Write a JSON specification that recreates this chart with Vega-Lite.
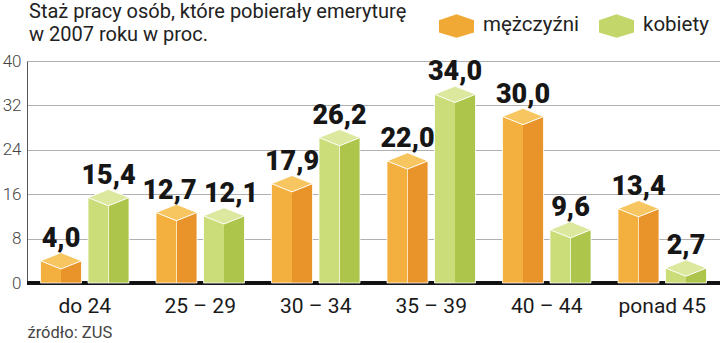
{
  "$schema": "https://vega.github.io/schema/vega-lite/v6.json",
  "autosize": {"type": "none"},
  "width": 693,
  "height": 222,
  "padding": {"left": 27, "top": 61, "right": 0, "bottom": 60},
  "background": "white",
  "config": {
    "font": "Roboto",
    "view": {"stroke": null},
    "locale": {"number": {"decimal": ",", "thousands": " ", "grouping": [3], "currency": ["", " zł"]}}
  },
  "title": {
    "text": ["Staż pracy osób, które pobierały emeryturę", "w 2007 roku w proc."],
    "anchor": "start",
    "frame": "group",
    "fontSize": 20,
    "fontWeight": "normal",
    "color": "#222222",
    "lineHeight": 23,
    "offset": 14,
    "dx": 2,
    "dy": 52
  },
  "data": {
    "values": [
      {"cat": "do 24", "sex": "mężczyźni", "value": 4.0},
      {"cat": "do 24", "sex": "kobiety", "value": 15.4},
      {"cat": "25 – 29", "sex": "mężczyźni", "value": 12.7},
      {"cat": "25 – 29", "sex": "kobiety", "value": 12.1},
      {"cat": "30 – 34", "sex": "mężczyźni", "value": 17.9},
      {"cat": "30 – 34", "sex": "kobiety", "value": 26.2},
      {"cat": "35 – 39", "sex": "mężczyźni", "value": 22.0},
      {"cat": "35 – 39", "sex": "kobiety", "value": 34.0},
      {"cat": "40 – 44", "sex": "mężczyźni", "value": 30.0},
      {"cat": "40 – 44", "sex": "kobiety", "value": 9.6},
      {"cat": "ponad 45", "sex": "mężczyźni", "value": 13.4},
      {"cat": "ponad 45", "sex": "kobiety", "value": 2.7}
    ]
  },
  "encoding": {
    "x": {
      "field": "cat",
      "type": "nominal",
      "sort": ["do 24", "25 – 29", "30 – 34", "35 – 39", "40 – 44", "ponad 45"],
      "scale": {"paddingInner": 0, "paddingOuter": 0},
      "axis": {
        "title": "źródło: ZUS",
        "titleAnchor": "start",
        "titleAlign": "left",
        "titleFontSize": 16.5,
        "titleFontWeight": "normal",
        "titleColor": "#444444",
        "titlePadding": 8,
        "labelAngle": 0,
        "labelFontSize": 21,
        "labelColor": "#1a1a1a",
        "labelPadding": 12,
        "ticks": false,
        "domain": false,
        "grid": false
      }
    },
    "xOffset": {
      "field": "sex",
      "type": "nominal",
      "sort": ["mężczyźni", "kobiety"],
      "scale": {"paddingInner": 0.137, "paddingOuter": 0.284}
    },
    "y": {
      "field": "value",
      "type": "quantitative",
      "scale": {"domain": [0, 40], "nice": false},
      "axis": {
        "title": null,
        "values": [0, 8, 16, 24, 32, 40],
        "labelFontSize": 17,
        "labelFontWeight": 300,
        "labelColor": "#444444",
        "labelPadding": 6,
        "ticks": false,
        "domainColor": "#555555",
        "domainWidth": 1,
        "gridColor": "#b0b0b0",
        "gridWidth": 1
      }
    }
  },
  "layer": [
    {
      "mark": {"type": "rule", "color": "#111111", "strokeWidth": 2.5},
      "encoding": {"y": {"datum": 0}, "x": null, "xOffset": null}
    },
    {
      "mark": {"type": "bar", "stroke": "white", "strokeWidth": 0.8},
      "encoding": {
        "fill": {
          "condition": {
            "test": "datum.sex === 'mężczyźni'",
            "value": {
              "gradient": "linear", "x1": 0, "x2": 1, "y1": 0, "y2": 0,
              "stops": [
                {"offset": 0, "color": "#f3b03e"},
                {"offset": 0.49, "color": "#f3b03e"},
                {"offset": 0.49, "color": "#fbe3b8"},
                {"offset": 0.51, "color": "#fbe3b8"},
                {"offset": 0.51, "color": "#e8942b"},
                {"offset": 1, "color": "#e8942b"}
              ]
            }
          },
          "value": {
            "gradient": "linear", "x1": 0, "x2": 1, "y1": 0, "y2": 0,
            "stops": [
              {"offset": 0, "color": "#cadd79"},
              {"offset": 0.49, "color": "#cadd79"},
              {"offset": 0.49, "color": "#eef4d2"},
              {"offset": 0.51, "color": "#eef4d2"},
              {"offset": 0.51, "color": "#adc54b"},
              {"offset": 1, "color": "#adc54b"}
            ]
          }
        }
      }
    },
    {
      "mark": {
        "type": "point",
        "shape": "M-1,0L0,0.4L1,0L0,-0.4Z",
        "size": 1681,
        "filled": true,
        "opacity": 1,
        "stroke": "white",
        "strokeWidth": 1
      },
      "encoding": {
        "fill": {
          "condition": {"test": "datum.sex === 'mężczyźni'", "value": "#f7c660"},
          "value": "#dbe89d"
        }
      }
    },
    {
      "mark": {"type": "point", "filled": true, "opacity": 0},
      "encoding": {
        "color": {
          "field": "sex",
          "type": "nominal",
          "sort": ["mężczyźni", "kobiety"],
          "scale": {"domain": ["mężczyźni", "kobiety"], "range": ["#f0a935", "#c2d66a"]},
          "legend": {
            "title": null,
            "orient": "none",
            "direction": "horizontal",
            "legendX": 412,
            "legendY": -54,
            "symbolType": "M-1,-0.25L0,-0.6L1,-0.25L1,0.45L0,0.75L-1,0.45Z",
            "symbolSize": 1225,
            "symbolOpacity": 1,
            "symbolStrokeWidth": 0,
            "labelFontSize": 20.5,
            "labelColor": "#222222",
            "labelOffset": 9,
            "columnPadding": 20
          }
        }
      }
    },
    {
      "transform": [{"filter": "datum.cat !== '25 – 29'"}],
      "mark": {"type": "text", "font": "Roboto", "fontSize": 27, "fontWeight": 900, "baseline": "alphabetic", "dy": -14, "color": "#161616"},
      "encoding": {
        "text": {"field": "value", "type": "quantitative", "format": ".1f"}
      }
    },
    {
      "transform": [{"filter": "datum.cat === '25 – 29' && datum.sex === 'mężczyźni'"}],
      "mark": {"type": "text", "font": "Roboto", "fontSize": 27, "fontWeight": 900, "baseline": "alphabetic", "dy": -14, "dx": -7, "color": "#161616"},
      "encoding": {
        "text": {"field": "value", "type": "quantitative", "format": ".1f"}
      }
    },
    {
      "transform": [{"filter": "datum.cat === '25 – 29' && datum.sex === 'kobiety'"}],
      "mark": {"type": "text", "font": "Roboto", "fontSize": 27, "fontWeight": 900, "baseline": "alphabetic", "dy": -14, "dx": 7, "color": "#161616"},
      "encoding": {
        "text": {"field": "value", "type": "quantitative", "format": ".1f"}
      }
    }
  ]
}
